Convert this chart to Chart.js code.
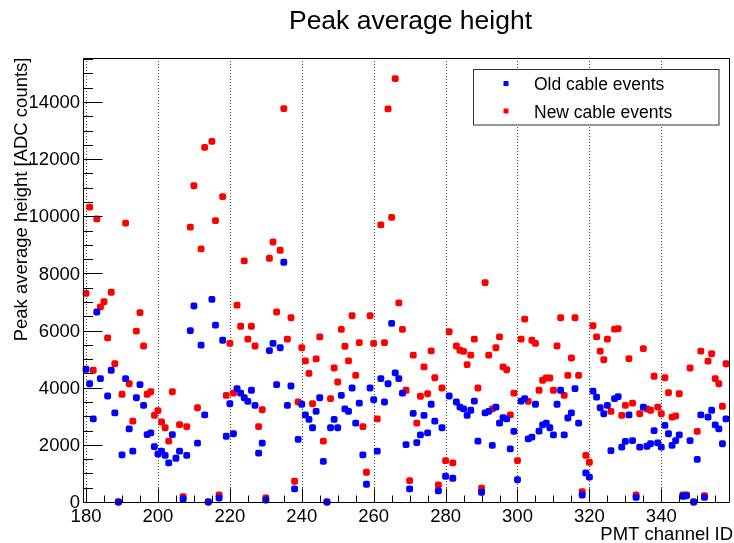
<!DOCTYPE html>
<html lang="en">
  <head>
    <meta charset="UTF-8" />
    <title>Peak average height</title>
    <style>
      body {
        margin: 0;
        background: #fff;
      }
      #chart {
        display: block;
      }
    </style>
    <script src="https://cdn.jsdelivr.net/npm/chart.js"></script>
  </head>
  <body>
    <canvas id="chart" width="734" height="543"></canvas>
    <script>
      // PMT channels 180..358
      const channels = [
        180, 181, 182, 183, 184, 185, 186, 187, 188, 189,
        190, 191, 192, 193, 194, 195, 196, 197, 198, 199,
        200, 201, 202, 203, 204, 205, 206, 207, 208, 209,
        210, 211, 212, 213, 214, 215, 216, 217, 218, 219,
        220, 221, 222, 223, 224, 225, 226, 227, 228, 229,
        230, 231, 232, 233, 234, 235, 236, 237, 238, 239,
        240, 241, 242, 243, 244, 245, 246, 247, 248, 249,
        250, 251, 252, 253, 254, 255, 256, 257, 258, 259,
        260, 261, 262, 263, 264, 265, 266, 267, 268, 269,
        270, 271, 272, 273, 274, 275, 276, 277, 278, 279,
        280, 281, 282, 283, 284, 285, 286, 287, 288, 289,
        290, 291, 292, 293, 294, 295, 296, 297, 298, 299,
        300, 301, 302, 303, 304, 305, 306, 307, 308, 309,
        310, 311, 312, 313, 314, 315, 316, 317, 318, 319,
        320, 321, 322, 323, 324, 325, 326, 327, 328, 329,
        330, 331, 332, 333, 334, 335, 336, 337, 338, 339,
        340, 341, 342, 343, 344, 345, 346, 347, 348, 349,
        350, 351, 352, 353, 354, 355, 356, 357, 358
      ];

      // peak average height [ADC counts], null = no entry
      const oldCable = [
        4645, 4140, 2910, 6650, 4320, null, 3710, 4610, 3120, 0,
        1650, 4320, 2560, 1780, 3650, 4110, 3380, 2360, 2420, 1940,
        1680, 1780, 1630, 1370, 2360, 1530, 1780, 105, 1630, 6000,
        6860, 2060, 5490, 3050, 0, 7090, 6190, 140, 5660, 2300,
        3440, 2390, 3970, 3810, 3650, 3520, 3910, 3380, 1710, 2060,
        70, 5300, 5550, 4110, 5400, 8390, 3380, 4060, 460, 2190,
        3420, 3050, 2890, 2600, 3170, 3650, 1420, 0, 2600, 2890,
        2600, 3730, 3260, 3170, 3990, 2760, 3460, 1650, 620, 3990,
        3580, 1780, 4320, 3500, 4140, 6250, 4520, 4320, 3810, 2010,
        460, 3100, 2080, 2350, 3030, 2420, 3420, 2830, 390, 2600,
        900, 3710, 830, 3500, 3320, 3260, 3030, 3210, 3530, 2130,
        340, 3120, 3170, 1980, 3320, 2760, 2950, 2910, 1860, 2470,
        780, 3530, 3620, 2210, 2270, 3420, 2480, 2700, 2760, 2600,
        2350, 3420, 3910, 2350, 2940, 3120, 3970, 2760, 245, 1020,
        870, 3880, 3670, 3300, 3090, 3380, 1800, 3620, 3690, 1920,
        2120, 3050, 2150, 160, 1920, 3320, 1950, 2040, 2500, 2070,
        1920, 2680, 2390, 1980, 2150, 2350, 200, 220, 2150, 0,
        1490, 3050, 160, 2970, 3210, 2700, 2560, 2040, 2910
      ];

      const newCable = [
        7300, 10320, 4610, 9910, 6830, 7010, 5745, 7340, 4840, 0,
        3770, 9760, 4140, 2830, 5980, 6630, 5460, 3770, 3860, 3030,
        3200, 2800, 2600, 2130, 3860, null, 2710, 190, 2640, 9620,
        11070, 3300, 8860, 12410, 0, 12620, 9850, 245, 10690, 3730,
        5550, 3810, 6890, 6150, 8440, 5700, 6150, 5460, 2640, 3230,
        140, 8530, 9100, 6650, 8810, 13770, 5700, 6450, 725, 3500,
        5400, 4940, 4500, 3440, 5010, 5780, 2130, 0, 3620, 4690,
        4200, 6040, 5450, 4940, 6520, 4430, 5580, 2640, 1040, 6520,
        5550, 2910, 9700, 5580, 13760, 9960, 14820, 6970, 6040, 3910,
        750, 5140, 2760, 3700, 4730, 3790, 5290, 4350, 600, 3990,
        1450, 5960, 1370, 5460, 5310, 5270, 4810, 5140, 5700, 3990,
        480, 7680, 5140, 3260, 5400, 5780, 4730, 4630, 3050, 3810,
        1450, 5700, 6400, 3520, 5660, 5550, 3910, 4260, 4340, 4340,
        3910, 5460, 6450, 3730, 4430, 5040, 6450, 4430, 360, 1630,
        1390, 6170, 5780, 5280, 4980, 5700, 3170, 6050, 6070, 3030,
        3380, 5020, 3460, 245, 3090, 5370, 3260, 3210, 4400, 3320,
        3090, 4350, 3830, 2970, 3010, 3790, 245, 245, 4690, 0,
        2470, 5280, 220, 4930, 5190, 4320, 4140, 3350, 4840
      ];

      const xMajor = [180, 200, 220, 240, 260, 280, 300, 320, 340];
      const yMajor = [0, 2000, 4000, 6000, 8000, 10000, 12000, 14000];
      const seriesNames = ["Old cable events", "New cable events"];
      const seriesColors = ["#0000ff", "#ff0000"];

      const FONT = "'Liberation Sans', Arial, sans-serif";

      function toPoints(values) {
        return channels
          .map((c, i) => ({ x: c, y: values[i] }))
          .filter(p => p.y !== null);
      }

      // ROOT-like frame: dotted grid, inward ticks, labels, titles, legend
      const frame = {
        id: "frame",
        beforeDatasetsDraw(chart) {
          const { ctx, chartArea: a, scales } = chart;
          ctx.save();
          ctx.strokeStyle = "#444";
          ctx.lineWidth = 1;
          ctx.setLineDash([1, 2]);
          xMajor.forEach(v => {
            const px = Math.round(scales.x.getPixelForValue(v)) + 0.5;
            ctx.beginPath();
            ctx.moveTo(px, a.top);
            ctx.lineTo(px, a.bottom);
            ctx.stroke();
          });
          ctx.restore();
        },
        afterDatasetsDraw(chart) {
          const { ctx, chartArea: a, scales } = chart;
          const xs = scales.x, ys = scales.y;
          const L = Math.round(a.left) - 0.5, R = Math.round(a.right) - 0.5;
          const T = Math.round(a.top) + 0.5, B = Math.round(a.bottom) + 0.5;
          ctx.save();
          ctx.strokeStyle = "#000";
          ctx.lineWidth = 1;
          ctx.beginPath();
          ctx.moveTo(L, T); ctx.lineTo(R, T);
          ctx.moveTo(R, T); ctx.lineTo(R, B);
          ctx.moveTo(L, T); ctx.lineTo(L, B);
          ctx.moveTo(L, B); ctx.lineTo(R, B);
          ctx.stroke();

          // x ticks every 5, labelled every 20
          ctx.beginPath();
          for (let v = 180; v <= xs.max; v += 5) {
            const px = Math.round(xs.getPixelForValue(v)) + 0.5;
            const len = xMajor.includes(v) ? 14 : 7;
            ctx.moveTo(px, B);
            ctx.lineTo(px, B - len);
          }
          // y ticks every 500, labelled every 2000
          for (let v = 0; v <= ys.max; v += 500) {
            const py = Math.round(ys.getPixelForValue(v)) + 0.5;
            const len = yMajor.includes(v) ? 19 : 9.5;
            ctx.moveTo(L, py);
            ctx.lineTo(L + len, py);
          }
          ctx.stroke();

          ctx.fillStyle = "#000";
          ctx.font = "18.5px " + FONT;
          ctx.textAlign = "center";
          ctx.textBaseline = "alphabetic";
          xMajor.forEach(v => ctx.fillText(String(v), xs.getPixelForValue(v), 522));
          ctx.textAlign = "right";
          ctx.textBaseline = "middle";
          yMajor.forEach(v => ctx.fillText(String(v), 80, ys.getPixelForValue(v) + 1));

          // axis titles
          ctx.textBaseline = "alphabetic";
          ctx.fillText("PMT channel ID", 733, 540);
          ctx.save();
          ctx.translate(27, 57.5);
          ctx.rotate(-Math.PI / 2);
          ctx.textAlign = "right";
          ctx.fillText("Peak average height [ADC counts]", 0, 0);
          ctx.restore();

          // chart title
          ctx.font = "26.5px " + FONT;
          ctx.textAlign = "center";
          ctx.fillText("Peak average height", 410.5, 28.5);

          // legend box
          ctx.fillStyle = "#fff";
          ctx.fillRect(473.5, 69.5, 245.5, 55.5);
          ctx.strokeStyle = "#333";
          ctx.strokeRect(473.5, 69.5, 245.5, 55.5);
          ctx.font = "17.5px " + FONT;
          ctx.textAlign = "left";
          const rows = [83.5, 111];
          seriesNames.forEach((name, i) => {
            ctx.fillStyle = seriesColors[i];
            ctx.fillRect(503.5, rows[i] - 2.5, 5, 5);
            ctx.fillStyle = "#000";
            ctx.fillText(name, 534, rows[i] + 6.5);
          });
          ctx.restore();
        }
      };

      const ctx = document.getElementById("chart").getContext("2d");
      new Chart(ctx, {
        type: "scatter",
        data: {
          datasets: [
            {
              label: seriesNames[0],
              data: toPoints(oldCable),
              backgroundColor: seriesColors[0],
              borderWidth: 0,
              pointStyle: "rectRounded",
              pointRadius: 4,
              pointHoverRadius: 4,
              clip: false
            },
            {
              label: seriesNames[1],
              data: toPoints(newCable),
              backgroundColor: seriesColors[1],
              borderWidth: 0,
              pointStyle: "rectRounded",
              pointRadius: 4,
              pointHoverRadius: 4,
              clip: false
            }
          ]
        },
        options: {
          responsive: false,
          animation: false,
          events: [],
          layout: { padding: { left: 84, right: 1, top: 58, bottom: 41 } },
          plugins: {
            legend: { display: false },
            title: { display: false },
            tooltip: { enabled: false }
          },
          scales: {
            x: { type: "linear", min: 179.43, max: 359.11, display: false },
            y: { type: "linear", min: 0, max: 15540, display: false }
          }
        },
        plugins: [frame]
      });
    </script>
  </body>
</html>
